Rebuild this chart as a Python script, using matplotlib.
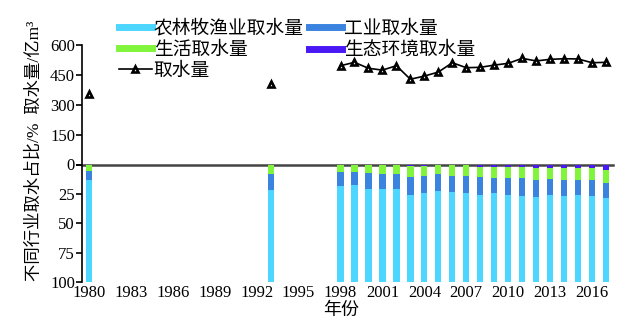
import matplotlib
matplotlib.use("Agg")
import matplotlib.pyplot as plt
from matplotlib.lines import Line2D
import numpy as np
import pandas as pd

plt.rcParams['font.family'] = ['Liberation Serif', 'Noto Sans CJK SC']
plt.rcParams['axes.unicode_minus'] = False

years = [1980, 1993] + list(range(1998, 2018))
total = [354, 403, 496, 513, 483, 474, 496, 428, 444, 464, 511, 486,
         488, 499, 508, 533, 520, 528, 531, 530, 511, 513]
agri = [87.0, 78.6, 81.8, 82.9, 79.5, 79.0, 79.0, 73.9, 75.6, 77.3, 76.7, 75.9,
        74.2, 76.1, 74.2, 73.3, 72.2, 74.2, 73.6, 74.2, 73.6, 71.6]
ind = [7.4, 13.7, 12.2, 10.9, 13.4, 13.1, 13.1, 15.6, 14.5, 14.2, 13.9, 14.7,
       15.1, 12.0, 14.5, 14.8, 15.0, 13.4, 13.4, 12.8, 12.8, 12.8]
dom = [5.6, 7.7, 6.0, 6.2, 7.1, 7.9, 7.9, 9.5, 9.0, 8.2, 8.8, 8.6,
       8.4, 9.6, 9.0, 9.6, 10.0, 9.6, 10.0, 10.2, 10.8, 11.0]
eco = [0, 0, 0, 0, 0, 0, 0, 1.0, 0.9, 0.3, 0.6, 0.8,
       2.3, 2.3, 2.3, 2.3, 2.8, 2.8, 3.0, 2.8, 2.8, 4.6]
xticks = list(range(1980, 2017, 3))
names = ['农林牧渔业取水量', '工业取水量', '生活取水量', '生态环境取水量', '取水量']
colors = ['#4DD6FF', '#3A84E0', '#80F53C', '#4A18F5']

W, H = 638, 324
fig = plt.figure(figsize=(W / 100, H / 100), dpi=100)
left, right = 82 / W, 613 / W
y600, y0, y100 = 45, 164.5, 282
ax_top = fig.add_axes([left, 1 - y0 / H, right - left, (y0 - y600) / H])
ax_bot = fig.add_axes([left, 1 - y100 / H, right - left, (y100 - y0) / H])

xlim = (1979.5, 2017.5)
# bottom: percentages
yrs = np.array(years, dtype=float)
e = np.array(eco); d = np.array(dom); i_ = np.array(ind); a = np.array(agri)
bw = 0.45
ax_bot.bar(yrs, e, bottom=0, width=bw, color=colors[3], linewidth=0)
ax_bot.bar(yrs, d, bottom=e, width=bw, color=colors[2], linewidth=0)
ax_bot.bar(yrs, i_, bottom=e + d, width=bw, color=colors[1], linewidth=0)
ax_bot.bar(yrs, a, bottom=e + d + i_, width=bw, color=colors[0], linewidth=0)
ax_bot.set_ylim(100, 0)
ax_bot.set_xlim(*xlim)
ax_bot.set_yticks([0, 25, 50, 75, 100])
ax_bot.set_yticklabels(['', '25', '50', '75', '100'])
ax_bot.set_xticks(xticks)
ax_bot.set_xticklabels([str(x) for x in xticks])
for s in ['top', 'right', 'bottom']:
    ax_bot.spines[s].set_visible(False)
ax_bot.tick_params(axis='x', length=0, pad=2, labelsize=12)
ax_bot.tick_params(axis='y', length=4, width=1.2, pad=1, labelsize=12)
ax_bot.spines['left'].set_linewidth(1.2)
ax_bot.patch.set_alpha(0)

# top: total water
ser = pd.Series(total, index=years).reindex(range(1980, 2018))
mk = dict(marker='^', markersize=5, mfc='white', mec='black', mew=1.9)
ax_top.plot(ser.index, ser.values, color='black', lw=1.2, zorder=3, **mk)
ax_top.set_ylim(0, 600)
ax_top.set_xlim(*xlim)
ax_top.set_yticks([0, 150, 300, 450, 600])
ax_top.set_xticks([])
for s in ['top', 'right']:
    ax_top.spines[s].set_visible(False)
ax_top.spines['bottom'].set_color('#444444')
ax_top.spines['bottom'].set_linewidth(1.8)
ax_top.spines['bottom'].set_zorder(5)
ax_top.spines['left'].set_linewidth(1.2)
ax_top.tick_params(axis='y', length=4, width=1.2, pad=1, labelsize=12)
ax_top.patch.set_alpha(0)

handles = [Line2D([], [], color=colors[0], lw=5),
           Line2D([], [], color=colors[2], lw=5),
           Line2D([], [], color='black', lw=1.2, **mk),
           Line2D([], [], color=colors[1], lw=5),
           Line2D([], [], color=colors[3], lw=5)]
labels = [names[0], names[2], names[4], names[1], names[3]]
fig.legend(handles, labels, loc='upper left', bbox_to_anchor=(119 / W, 1 - 20 / H),
           ncol=2, frameon=False, fontsize=13.5, handlelength=1.75, handletextpad=0.1,
           columnspacing=0.3, labelspacing=0.2, borderpad=0, borderaxespad=0)

fig.text(34 / W, 1 - 151 / H, '不同行业取水占比/%  取水量/亿m³', rotation=90,
         ha='center', va='center', fontsize=12.5)
fig.text(341 / W, 1 - 310 / H, '年份', ha='center', va='center', fontsize=13)

fig.savefig('out.png', dpi=100)
